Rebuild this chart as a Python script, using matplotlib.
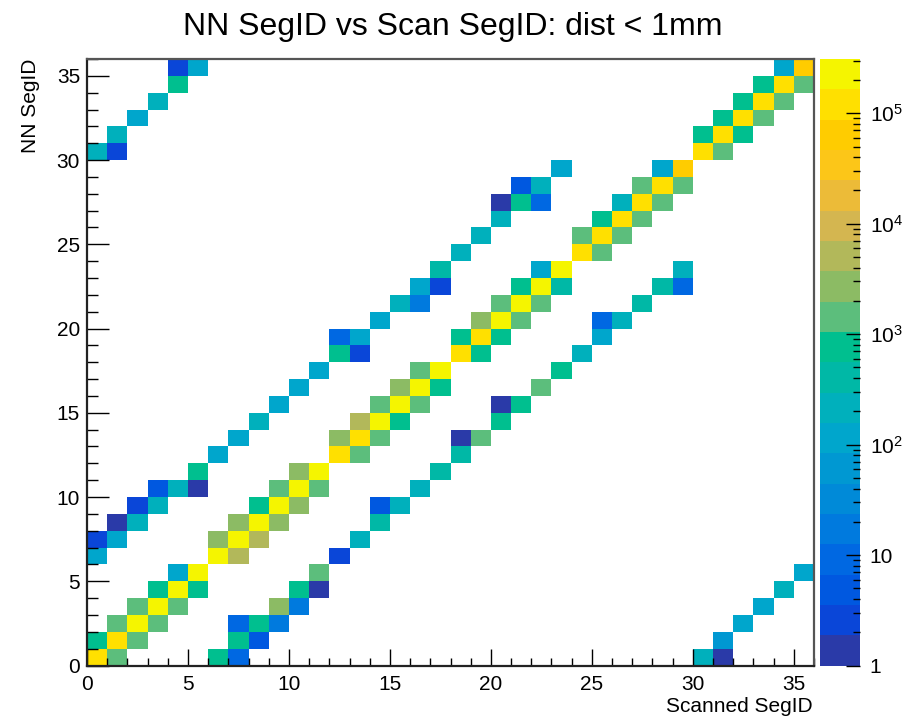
import matplotlib
matplotlib.use("Agg")
import numpy as np
import matplotlib.pyplot as plt
from matplotlib.colors import ListedColormap, LogNorm
from matplotlib.ticker import FixedLocator, NullFormatter, MultipleLocator

plt.rcParams['font.family'] = ['Liberation Sans', 'DejaVu Sans']
plt.rcParams['mathtext.fontset'] = 'custom'
plt.rcParams['mathtext.rm'] = 'Liberation Sans'
plt.rcParams['mathtext.it'] = 'Liberation Sans'

# ---- data: (scanned segID, NN segID, counts) ----
scan_segid = [
    # upper off-diagonal band
    0, 0, 1, 1, 2, 2, 3, 3, 4, 5, 5, 6, 7, 8, 9, 10, 11, 12, 12, 13, 13, 14, 15, 16, 16, 17, 17, 18, 19, 20, 20, 21, 21, 22, 22, 23,
    # upper-left wrap
    0, 1, 1, 2, 3, 4, 4, 5,
    # main diagonal
    0, 1, 0, 1, 2, 1, 2, 3, 2, 3, 4, 3, 4, 5, 4, 5,
    6, 7, 6, 7, 8, 7, 8, 9, 8, 9, 10, 9, 10, 11, 10, 11,
    12, 13, 12, 13, 14, 13, 14, 15, 14, 15, 16, 15, 16, 17, 16, 17,
    18, 19, 18, 19, 20, 19, 20, 21, 20, 21, 22, 21, 22, 23, 22, 23,
    24, 25, 24, 25, 26, 25, 26, 27, 26, 27, 28, 27, 28, 29, 28, 29,
    30, 31, 30, 31, 32, 31, 32, 33, 32, 33, 34, 33, 34, 35, 34, 35,
    # lower off-diagonal band
    6, 7, 7, 8, 7, 8, 9, 9, 10, 10, 11, 11, 12, 13, 14, 14, 15, 16, 17, 18, 18, 19, 20, 20, 21, 22, 23, 24, 25, 25, 26, 27, 28, 29, 29,
    # lower-right wrap
    30, 31, 31, 32, 33, 34, 35,
]
nn_segid = [
    6, 7, 7, 8, 8, 9, 9, 10, 10, 10, 11, 12, 13, 14, 15, 16, 17, 18, 19, 18, 19, 20, 21, 21, 22, 22, 23, 24, 25, 26, 27, 27, 28, 27, 28, 29,
    30, 30, 31, 32, 33, 34, 35, 35,
    0, 0, 1, 1, 1, 2, 2, 2, 3, 3, 3, 4, 4, 4, 5, 5,
    6, 6, 7, 7, 7, 8, 8, 8, 9, 9, 9, 10, 10, 10, 11, 11,
    12, 12, 13, 13, 13, 14, 14, 14, 15, 15, 15, 16, 16, 16, 17, 17,
    18, 18, 19, 19, 19, 20, 20, 20, 21, 21, 21, 22, 22, 22, 23, 23,
    24, 24, 25, 25, 25, 26, 26, 26, 27, 27, 27, 28, 28, 28, 29, 29,
    30, 30, 31, 31, 31, 32, 32, 32, 33, 33, 33, 34, 34, 34, 35, 35,
    0, 0, 1, 1, 2, 2, 2, 3, 3, 4, 4, 5, 6, 7, 8, 9, 9, 10, 11, 12, 13, 13, 14, 15, 15, 16, 17, 18, 19, 20, 20, 21, 22, 22, 23,
    0, 0, 1, 2, 3, 4, 5,
]
counts = [
    115, 3, 115, 1, 215, 3, 215, 5, 215, 1, 770, 115, 115, 215, 115, 115, 115, 770, 9, 3, 115, 115, 215, 17, 115, 3, 410, 215, 215, 215, 1, 770, 5, 9, 215, 115,
    215, 3, 215, 115, 215, 770, 3, 115,
    120000, 1450, 770, 120000, 1450, 1450, 230000, 1450, 1450, 230000, 1450, 770, 230000, 770, 115, 230000,
    230000, 5200, 2700, 230000, 5200, 2700, 230000, 2700, 770, 230000, 2700, 1450, 230000, 1450, 2700, 230000,
    120000, 1450, 2700, 120000, 1450, 5200, 230000, 770, 1450, 230000, 1450, 2700, 230000, 770, 1450, 230000,
    120000, 770, 770, 120000, 770, 2700, 230000, 1450, 1450, 230000, 1450, 770, 230000, 410, 115, 230000,
    120000, 1450, 1450, 120000, 1450, 770, 120000, 1450, 215, 120000, 1450, 1450, 120000, 1450, 115, 65000,
    120000, 1450, 770, 120000, 770, 770, 120000, 1450, 770, 120000, 1450, 770, 120000, 1450, 115, 65000,
    770, 9, 770, 5, 9, 770, 17, 2700, 17, 770, 1, 1450, 3, 215, 410, 5, 215, 215, 410, 410, 1, 1450, 770, 1, 770, 1450, 770, 215, 115, 9, 215, 410, 410, 9, 215,
    215, 1, 60, 115, 115, 215, 115,
]

title = "NN SegID vs Scan SegID: dist < 1mm"
xlabel = "Scanned SegID"
ylabel = "NN SegID"
nbins = 36

band_colors = [
    '#2a3aa8', '#0a46d8', '#0058e0', '#0068e2', '#007ade', '#008ad8', '#0098d2',
    '#00a6cc', '#00b0bc', '#00b8a6', '#00bf8f', '#5cbe7c', '#8cbb64', '#b2b85a',
    '#d4b650', '#ecbb38', '#fcc618', '#ffcc00', '#ffe000', '#f5f500',
]
cmap = ListedColormap(band_colors)
norm = LogNorm(vmin=1, vmax=3.1e5)

H, xe, ye = np.histogram2d(scan_segid, nn_segid, bins=nbins,
                           range=[[0, nbins], [0, nbins]], weights=counts)
Hm = np.ma.masked_where(H <= 0, H)

W, Hpx = 907, 721
fig = plt.figure(figsize=(W / 100, Hpx / 100), dpi=100)
ax = fig.add_axes([87 / W, (Hpx - 665.5) / Hpx, (814 - 87) / W, (665.5 - 59) / Hpx])
mesh = ax.pcolormesh(xe, ye, Hm.T, cmap=cmap, norm=norm, edgecolors='none')
ax.set_xlim(0, nbins)
ax.set_ylim(0, nbins)

ax.xaxis.set_major_locator(MultipleLocator(5))
ax.xaxis.set_minor_locator(MultipleLocator(1))
ax.yaxis.set_major_locator(MultipleLocator(5))
ax.yaxis.set_minor_locator(MultipleLocator(1))
ax.tick_params(axis='x', which='major', direction='in', length=12, width=1.0,
               labelsize=15, pad=7, top=False)
ax.tick_params(axis='x', which='minor', direction='in', length=6, width=1.0, top=False)
ax.tick_params(axis='y', which='major', direction='in', length=16, width=1.0,
               labelsize=15, pad=5, right=False)
ax.tick_params(axis='y', which='minor', direction='in', length=8, width=1.0, right=False)
for s in ['left', 'bottom']:
    ax.spines[s].set_linewidth(1.6)
    ax.spines[s].set_color('#222222')
for s in ['top', 'right']:
    ax.spines[s].set_linewidth(1.6)
    ax.spines[s].set_color('#555555')

# colour bar
cax = fig.add_axes([820 / W, (Hpx - 665.5) / Hpx, 40 / W, (665.5 - 59) / Hpx])
cb = fig.colorbar(mesh, cax=cax)
cb.outline.set_visible(False)
major = [1, 10, 100, 1e3, 1e4, 1e5]
cax.yaxis.set_major_locator(FixedLocator(major))
cax.set_yticklabels(['1', '10', r'$10^{2}$', r'$10^{3}$', r'$10^{4}$', r'$10^{5}$'])
minor = [m * 10 ** e for e in range(0, 6) for m in range(2, 10) if m * 10 ** e < 3.1e5]
cax.yaxis.set_minor_locator(FixedLocator(minor))
cax.yaxis.set_minor_formatter(NullFormatter())
cax.tick_params(axis='y', which='major', direction='in', length=10, width=1.0,
                labelsize=15, pad=7, right=True, left=False)
cax.tick_params(axis='y', which='minor', direction='in', length=5, width=1.0,
                right=True, left=False)

fig.text(0.499, 1 - 27 / Hpx, title, ha='center', va='center', fontsize=23)
fig.text(813 / W, 1 - 706 / Hpx, xlabel, ha='right', va='center', fontsize=15)
fig.text(30 / W, 1 - 59 / Hpx, ylabel, ha='center', va='top', rotation=90, fontsize=15)

fig.savefig('out.png', dpi=100)
